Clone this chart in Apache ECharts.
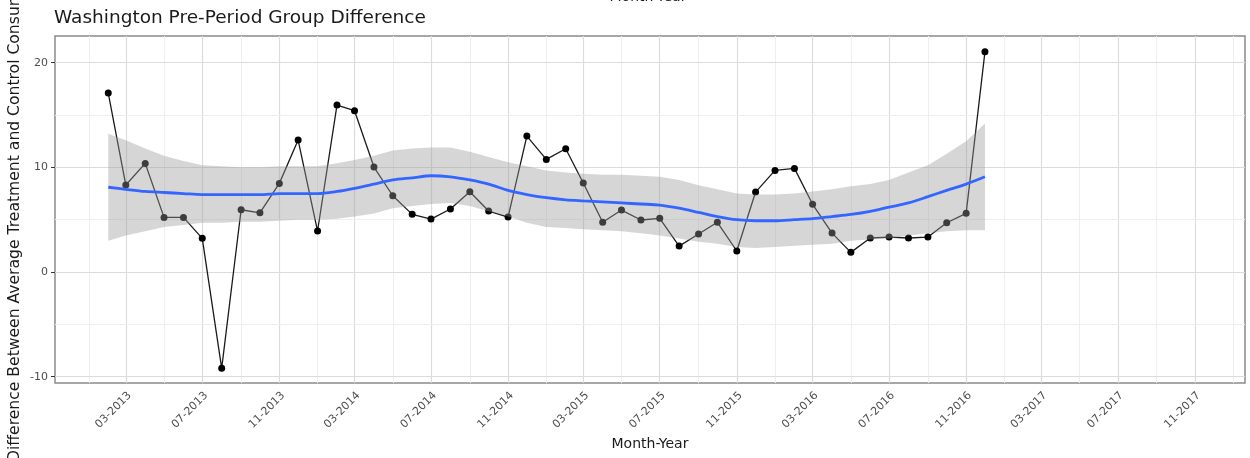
<!DOCTYPE html>
<html>
<head>
<meta charset="utf-8">
<script src="https://cdn.jsdelivr.net/npm/echarts@6/dist/echarts.min.js"></script>
<style>
html,body{margin:0;padding:0;background:#fff;}
#chart{width:1250px;height:458px;}
</style>
</head>
<body>
<div id="chart"></div>
<script>
// ---------------- data ----------------
const months = [
  '2013-02','2013-03','2013-04','2013-05','2013-06','2013-07','2013-08','2013-09','2013-10','2013-11','2013-12',
  '2014-01','2014-02','2014-03','2014-04','2014-05','2014-06','2014-07','2014-08','2014-09','2014-10','2014-11','2014-12',
  '2015-01','2015-02','2015-03','2015-04','2015-05','2015-06','2015-07','2015-08','2015-09','2015-10','2015-11','2015-12',
  '2016-01','2016-02','2016-03','2016-04','2016-05','2016-06','2016-07','2016-08','2016-09','2016-10','2016-11','2016-12'
];
const groupDifference = [
  17.10, 8.31, 10.38, 5.22, 5.22, 3.22, -9.20, 5.95, 5.66, 8.47, 12.61,
  3.92, 15.95, 15.41, 10.03, 7.29, 5.51, 5.06, 6.02, 7.67, 5.83, 5.25,
  12.99, 10.76, 11.78, 8.50, 4.75, 5.92, 4.97, 5.13, 2.48, 3.63, 4.75, 2.01,
  7.64, 9.71, 9.90, 6.47, 3.72, 1.88, 3.25, 3.34, 3.25, 3.34, 4.71, 5.61, 21.04
];
const smoothFit = [
  8.1, 7.9, 7.7, 7.6, 7.5, 7.4, 7.4, 7.4, 7.4, 7.5, 7.5,
  7.5, 7.7, 8.0, 8.4, 8.8, 9.0, 9.2, 9.1, 8.8, 8.4, 7.8,
  7.4, 7.1, 6.9, 6.8, 6.7, 6.6, 6.5, 6.4, 6.1, 5.7, 5.3, 5.0,
  4.9, 4.9, 5.0, 5.1, 5.3, 5.5, 5.8, 6.2, 6.6, 7.2, 7.8, 8.4, 9.1
];
const smoothUpper = [
  13.2, 12.6, 11.8, 11.1, 10.6, 10.2, 10.1, 10.0, 10.0, 10.1, 10.1,
  10.1, 10.4, 10.7, 11.1, 11.6, 11.8, 11.9, 11.9, 11.5, 11.0, 10.5,
  10.1, 9.7, 9.5, 9.4, 9.3, 9.3, 9.2, 9.1, 8.8, 8.3, 7.9, 7.5,
  7.4, 7.4, 7.5, 7.7, 7.9, 8.2, 8.4, 8.8, 9.5, 10.2, 11.3, 12.5, 14.2
];
const smoothLower = [
  3.0, 3.5, 3.9, 4.3, 4.5, 4.7, 4.7, 4.8, 4.8, 4.9, 5.0,
  5.0, 5.1, 5.3, 5.6, 6.1, 6.3, 6.5, 6.6, 6.3, 5.8, 5.3,
  4.7, 4.3, 4.2, 4.1, 4.0, 3.9, 3.7, 3.5, 3.2, 2.9, 2.7, 2.4,
  2.3, 2.4, 2.5, 2.6, 2.7, 3.0, 3.1, 3.2, 3.5, 3.7, 3.9, 4.0, 4.0
];
const xTickLabels = ['03-2013','07-2013','11-2013','03-2014','07-2014','11-2014','03-2015','07-2015',
                     '11-2015','03-2016','07-2016','11-2016','03-2017','07-2017','11-2017'];
const xMinorBreaks = ['01-2013','05-2013','09-2013','01-2014','05-2014','09-2014','01-2015','05-2015',
                      '09-2015','01-2016','05-2016','09-2016','01-2017','05-2017','09-2017','01-2018'];
const yTicks = [-10, 0, 10, 20];
const yMinorBreaks = [-5, 5, 15];

// ---------------- helpers ----------------
const FONT = '"DejaVu Sans", "Liberation Sans", sans-serif';
function tsYM(s) { const p = s.split('-').map(Number); return Date.UTC(p[0], p[1] - 1, 1); }
function tsMY(s) { const p = s.split('-').map(Number); return Date.UTC(p[1], p[0] - 1, 1); }
function tsDay(y, m, d) { return Date.UTC(y, m - 1, d); }

const xMajor = xTickLabels.map(tsMY);
const labelByTs = {};
xTickLabels.forEach(l => { labelByTs[tsMY(l)] = l; });

const monthTs = months.map(tsYM);
const pointData = monthTs.map((t, i) => [t, groupDifference[i]]);
const fitData = monthTs.map((t, i) => [t, smoothFit[i]]);

const majorC = '#dcdcdc', minorC = '#eeeeee';
const gridLines = []
  .concat(xMinorBreaks.map(l => ({ xAxis: tsMY(l), lineStyle: { color: minorC, width: 1, type: 'solid' } })))
  .concat(xMajor.map(v => ({ xAxis: v, lineStyle: { color: majorC, width: 1.2, type: 'solid' } })))
  .concat(yMinorBreaks.map(v => ({ yAxis: v, lineStyle: { color: minorC, width: 1, type: 'solid' } })))
  .concat(yTicks.map(v => ({ yAxis: v, lineStyle: { color: majorC, width: 1.2, type: 'solid' } })));

function renderRibbon(params, api) {
  if (params.dataIndex !== 0) return null;
  const pts = [];
  for (let i = 0; i < monthTs.length; i++) pts.push(api.coord([monthTs[i], smoothUpper[i]]));
  for (let i = monthTs.length - 1; i >= 0; i--) pts.push(api.coord([monthTs[i], smoothLower[i]]));
  return {
    type: 'polygon', silent: true,
    shape: { points: pts },
    style: { fill: 'rgba(153,153,153,0.4)', stroke: null }
  };
}

const chart = echarts.init(document.getElementById('chart'), null, { renderer: 'canvas' });
const option = {
  animation: false,
  backgroundColor: '#ffffff',
  title: {
    text: 'Washington Pre-Period Group Difference',
    left: 54, top: 9, padding: 0,
    textStyle: { fontFamily: FONT, fontSize: 18.5, fontWeight: 'normal', color: '#1a1a1a' }
  },
  grid: {
    left: 55, right: 5, top: 36, bottom: 75,
    show: true, borderColor: '#8a8a8a', borderWidth: 1.5, backgroundColor: 'transparent'
  },
  xAxis: {
    type: 'value',
    min: tsDay(2012, 11, 8),
    max: tsDay(2018, 1, 20),
    splitLine: { show: false },
    axisLine: { show: false },
    axisTick: { show: true, customValues: xMajor, length: 4, lineStyle: { color: '#333333', width: 1 } },
    axisLabel: {
      customValues: xMajor, rotate: 45, margin: 7, hideOverlap: false, verticalAlign: 'top',
      fontFamily: FONT, fontSize: 11, color: '#4d4d4d',
      formatter: function (v) { return labelByTs[v] || ''; }
    },
    name: 'Month-Year', nameLocation: 'middle', nameGap: 52,
    nameTextStyle: { fontFamily: FONT, fontSize: 14, color: '#1a1a1a' }
  },
  yAxis: {
    type: 'value',
    min: -10.6, max: 22.55,
    splitLine: { show: false },
    axisLine: { show: false },
    axisTick: { show: true, customValues: yTicks, length: 4, lineStyle: { color: '#333333', width: 1 } },
    axisLabel: { customValues: yTicks, margin: 7, fontFamily: FONT, fontSize: 11, color: '#4d4d4d' }
  },
  graphic: [
    {
      type: 'text', x: 15, y: 462, rotation: Math.PI / 2, silent: true,
      style: { text: 'Difference Between Average Treatment and Control Consumption',
               font: '15.6px ' + FONT, fill: '#1a1a1a', align: 'left', verticalAlign: 'middle' }
    },
    {
      type: 'text', x: 648, y: 4.5, silent: true,
      style: { text: 'Month-Year', font: '14px ' + FONT, fill: '#1a1a1a', align: 'center', verticalAlign: 'bottom' }
    }
  ],
  series: [
    {
      name: 'grid', type: 'line', data: [], z: 1, silent: true,
      markLine: { silent: true, z: 1, symbol: 'none', animation: false, label: { show: false }, data: gridLines }
    },
    {
      name: 'difference', type: 'line', data: pointData, z: 2,
      symbol: 'circle', symbolSize: 7, showSymbol: true,
      itemStyle: { color: '#000000' },
      lineStyle: { color: '#1a1a1a', width: 1.3 }
    },
    {
      name: 'ribbon', type: 'custom', z: 3, silent: true, clip: false,
      data: [[monthTs[0], smoothLower[0]]],
      renderItem: renderRibbon
    },
    {
      name: 'fit', type: 'line', data: fitData, z: 4,
      symbol: 'none', smooth: 0.3, lineStyle: { color: '#3366FF', width: 2.8 }
    }
  ]
};
chart.setOption(option);
</script>
</body>
</html>
